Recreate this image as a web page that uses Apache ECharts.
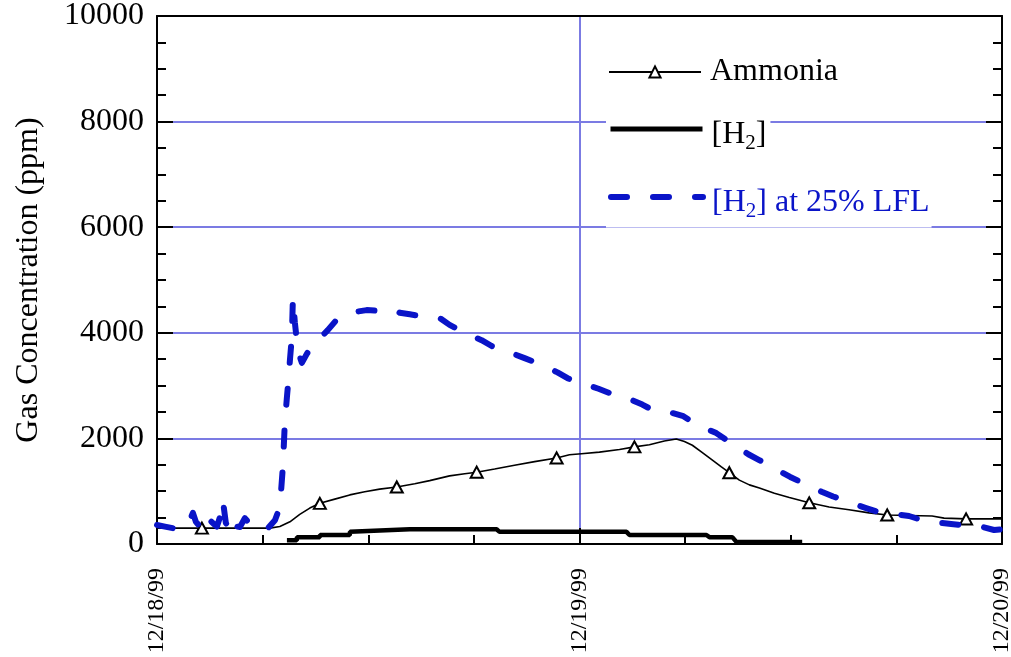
<!DOCTYPE html>
<html>
<head>
<meta charset="utf-8">
<script src="https://cdn.jsdelivr.net/npm/echarts@6/dist/echarts.min.js"></script>
<style>
html,body{margin:0;padding:0;background:#fff;}
#chart{width:1011px;height:657px;}
</style>
</head>
<body>
<div id="chart"></div>
<script>
// Time in hours since 12/18/99 00:00
const xTickLabels = {0: '12/18/99', 24: '12/19/99', 48: '12/20/99'};

const ammoniaHours = [0, 2.55, 4.5, 6.41, 6.98, 7.55, 8.11, 8.68, 9.25, 10.10, 10.95, 11.80, 12.65, 13.62, 14.64, 15.49, 16.62, 17.48, 18.16, 19.18, 20.31, 21.45, 22.70, 23.43, 24.11, 25.13, 26.27, 27.12, 27.97, 28.82, 29.50, 29.96, 30.41, 30.98, 31.55, 32.06, 32.51, 33.08, 33.65, 34.22, 35.07, 35.92, 37.05, 38.18, 39.31, 40.45, 41.48, 42.72, 44.03, 44.71, 45.96, 47.0, 48];
const ammoniaValues = [300, 300, 300, 300, 330, 420, 560, 680, 770, 850, 930, 990, 1040, 1080, 1140, 1200, 1290, 1330, 1360, 1420, 1490, 1560, 1630, 1690, 1710, 1740, 1790, 1840, 1880, 1950, 1990, 1940, 1870, 1730, 1590, 1460, 1350, 1210, 1120, 1060, 960, 880, 780, 700, 650, 590, 550, 540, 530, 490, 475, 475, 475];
const ammoniaMarkerHours = [2.55, 9.25, 13.62, 18.16, 22.70, 27.12, 32.51, 37.05, 41.48, 45.96];

const h2Hours = [7.38, 7.94, 7.95, 9.25, 9.26, 10.95, 10.96, 14.36, 19.29, 19.46, 26.67, 26.84, 31.21, 31.38, 32.68, 32.91, 36.65];
const h2Values = [70, 70, 130, 130, 170, 170, 230, 280, 280, 230, 230, 170, 170, 130, 130, 40, 40];

const lflHours = [0, 0.45, 0.91, 1.30, 1.70, 1.87, 2.04, 2.21, 2.44, 2.67, 2.84, 3.06, 3.23, 3.40, 3.57, 3.74, 3.91, 4.03, 4.31, 4.54, 4.71, 4.99, 5.22, 5.45, 5.84, 6.30, 6.70, 6.98, 7.15, 7.26, 7.38, 7.49, 7.55, 7.66, 7.72, 7.83, 7.94, 8.11, 8.23, 8.51, 8.85, 9.25, 9.70, 10.21, 10.78, 11.35, 11.91, 12.48, 13.05, 13.39, 13.79, 14.36, 14.92, 15.49, 16.06, 16.62, 17.19, 17.82, 18.44, 19.01, 19.63, 20.26, 20.88, 21.50, 22.13, 22.75, 23.32, 23.89, 24.45, 25.08, 25.70, 26.33, 26.95, 27.57, 28.14, 28.71, 29.28, 29.90, 30.52, 31.15, 31.77, 32.39, 32.96, 33.59, 34.21, 34.78, 35.35, 35.97, 36.60, 37.22, 37.79, 38.41, 39.03, 39.66, 40.28, 40.85, 41.42, 42.04, 42.72, 43.28, 43.86, 44.48, 45.11, 45.67, 46.30, 46.92, 47.55, 48];
const lflValues = [360, 330, 300, 320, 330, 450, 590, 420, 330, 360, 550, 430, 380, 330, 500, 830, 400, 320, 510, 330, 320, 490, 400, 300, 290, 300, 450, 700, 1460, 2290, 2780, 3200, 3480, 3920, 4660, 4200, 3860, 3550, 3430, 3600, 3770, 3900, 4050, 4250, 4340, 4400, 4430, 4420, 4440, 4450, 4380, 4350, 4320, 4300, 4280, 4150, 4050, 3950, 3860, 3750, 3670, 3600, 3520, 3440, 3350, 3250, 3140, 3060, 3010, 2940, 2860, 2800, 2730, 2640, 2540, 2500, 2480, 2420, 2290, 2190, 2100, 1960, 1840, 1700, 1590, 1480, 1380, 1270, 1170, 1070, 985, 900, 830, 750, 680, 620, 590, 560, 530, 470, 420, 400, 380, 360, 340, 320, 265, 280];

const seriesNames = ['Ammonia', '[H2]', '[H2] at 25% LFL'];

const SERIF = 'Liberation Serif';
const BLUE = '#0a14c8';
const GRID_BLUE = '#7b7be3';

const chart = echarts.init(document.getElementById('chart'));

const richText = {
  m: {fontSize: 32, fontFamily: SERIF, padding: [12, 0, 0, 0], verticalAlign: 'middle'},
  sub: {fontSize: 21, fontFamily: SERIF, padding: [28, 0, 0, 0], verticalAlign: 'middle'}
};
function subFmt(name) {
  if (name.indexOf('H2') < 0) return name;
  const parts = name.split('H2');
  return '{m|' + parts[0] + 'H}{sub|2}{m|' + parts[1] + '}';
}

function legendFor(idx, top, color, padding, lineStyle, hideSymbol) {
  const lg = {
    data: [seriesNames[idx]],
    left: 606,
    top: top,
    orient: 'vertical',
    itemWidth: 92,
    itemHeight: 14,
    itemGap: 0,
    backgroundColor: '#fff',
    padding: padding,
    formatter: subFmt,
    lineStyle: lineStyle,
    textStyle: {fontFamily: SERIF, fontSize: 32, color: color, padding: [0, 0, 0, 4], rich: richText}
  };
  if (hideSymbol) lg.itemStyle = {color: 'rgba(0,0,0,0)', borderColor: 'rgba(0,0,0,0)', borderWidth: 0};
  return lg;
}

const ammoniaData = ammoniaHours.map((h, i) => ({
  value: [h, ammoniaValues[i]],
  symbol: ammoniaMarkerHours.includes(h) ? 'triangle' : 'none'
}));

const option = {
  animation: false,
  backgroundColor: '#fff',
  grid: {left: 157, right: 9, top: 16, bottom: 113, containLabel: false, outerBoundsMode: 'none'},
  legend: [
    legendFor(0, 52, '#000', [4, 2, 4, 2], {width: 2}, false),
    legendFor(1, 111, '#000', [8, 4, 8, 2], {width: 5}, true),
    legendFor(2, 177, BLUE, [10, 2, 6, 2], {width: 6, type: [16, 26], cap: 'round'}, true)
  ],
  xAxis: [{
    type: 'value', min: 0, max: 48, interval: 24,
    axisLine: {show: true, onZero: false, lineStyle: {color: '#000', width: 2}},
    axisTick: {show: true, inside: true, length: 16, lineStyle: {color: '#000', width: 2}},
    minorTick: {show: true, splitNumber: 4, length: 9, lineStyle: {color: '#000', width: 2}},
    splitLine: {show: true, lineStyle: {color: GRID_BLUE, width: 2}},
    axisLabel: {
      rotate: 90, margin: 24, fontFamily: SERIF, fontSize: 24, color: '#000',
      formatter: v => xTickLabels[v] || ''
    }
  }, {
    type: 'value', min: 0, max: 48, interval: 24, position: 'top',
    axisLine: {show: true, onZero: false, lineStyle: {color: '#000', width: 2}},
    axisTick: {show: false}, axisLabel: {show: false}, splitLine: {show: false}
  }],
  yAxis: [{
    type: 'value', min: 0, max: 10000, interval: 2000,
    name: 'Gas Concentration (ppm)', nameLocation: 'middle', nameGap: 112, nameRotate: 90,
    nameTextStyle: {fontFamily: SERIF, fontSize: 32, color: '#000'},
    axisLine: {show: true, onZero: false, lineStyle: {color: '#000', width: 2}},
    axisTick: {show: true, inside: true, length: 16, lineStyle: {color: '#000', width: 2}},
    minorTick: {show: true, splitNumber: 4, length: 9, lineStyle: {color: '#000', width: 2}},
    splitLine: {show: true, lineStyle: {color: GRID_BLUE, width: 2}},
    axisLabel: {fontFamily: SERIF, fontSize: 32, color: '#000', margin: 13, formatter: v => String(v)}
  }, {
    type: 'value', min: 0, max: 10000, interval: 2000, position: 'right',
    axisLine: {show: true, onZero: false, lineStyle: {color: '#000', width: 2}},
    axisTick: {show: true, inside: true, length: 16, lineStyle: {color: '#000', width: 2}},
    minorTick: {show: true, splitNumber: 4, length: 9, lineStyle: {color: '#000', width: 2}},
    splitLine: {show: false}, axisLabel: {show: false}
  }],
  series: [{
    name: seriesNames[0], type: 'line', data: ammoniaData,
    symbol: 'triangle', symbolSize: [12, 11], showSymbol: true,
    itemStyle: {color: '#fff', borderColor: '#000', borderWidth: 2},
    lineStyle: {color: '#000', width: 1.6}, z: 3
  }, {
    name: seriesNames[1], type: 'line', symbol: 'none',
    data: h2Hours.map((h, i) => [h, h2Values[i]]),
    itemStyle: {color: '#000'},
    lineStyle: {color: '#000', width: 4.5}, z: 2
  }, {
    name: seriesNames[2], type: 'line', symbol: 'none',
    data: lflHours.map((h, i) => [h, lflValues[i]]),
    itemStyle: {color: BLUE},
    lineStyle: {color: BLUE, width: 6, type: [16, 26], cap: 'round', join: 'round'}, z: 4
  }]
};
chart.setOption(option);
</script>
</body>
</html>
